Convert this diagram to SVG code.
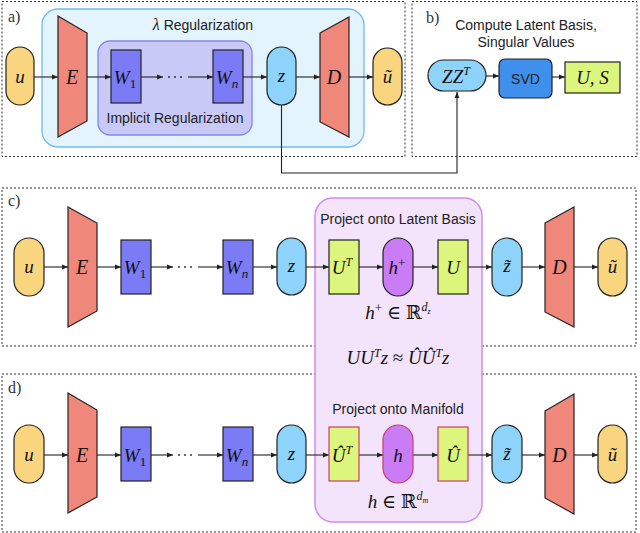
<svg xmlns="http://www.w3.org/2000/svg" width="640" height="533" viewBox="0 0 640 533">
<defs>
<marker id="ah" viewBox="0 0 10 10" refX="10" refY="5" markerWidth="6" markerHeight="6" orient="auto" markerUnits="userSpaceOnUse"><path d="M0,1 L10,5 L0,9 z" fill="#222"/></marker>
<style>
.panel{fill:none;stroke:#333;stroke-width:1;stroke-dasharray:2,2}
.u{fill:#f8d57e;stroke:#222;stroke-width:1.2}
.enc{fill:#f0877b;stroke:#222;stroke-width:1.2}
.w{fill:#7b7bf5;stroke:#222;stroke-width:1.2}
.z{fill:#8dd3fa;stroke:#222;stroke-width:1.2}
.g{fill:#dcf57c;stroke:#222;stroke-width:1.2}
.gr{fill:#dcf57c;stroke:#cc3c6a;stroke-width:1.2}
.h{fill:#c97cf4;stroke:#222;stroke-width:1.2}
.hr{fill:#c97cf4;stroke:#cc3c6a;stroke-width:1.2}
.m{font-family:"Liberation Serif","DejaVu Serif",serif;font-style:italic;fill:#111;text-anchor:middle}
.lab{font-family:"Liberation Serif","DejaVu Serif",serif;font-size:16px;fill:#333}
.s{font-family:"Liberation Sans","DejaVu Sans",sans-serif;font-size:14px;fill:#222;text-anchor:middle}
.c{fill:none;stroke:#222;stroke-width:1.1}
</style>
</defs>
<g id="panels">
<rect class="panel" x="2" y="1.5" width="403" height="155"/>
<rect class="panel" x="412" y="1.5" width="225" height="155"/>
<rect class="panel" x="2" y="188" width="634" height="158"/>
<rect class="panel" x="2" y="374" width="634" height="158"/>
<text class="lab" x="8" y="22">a)</text>
<text class="lab" x="426" y="23">b)</text>
<text class="lab" x="8" y="206">c)</text>
<text class="lab" x="8" y="393">d)</text>
</g>
<g id="lambda-reg">
<rect x="42" y="9" width="322" height="138" rx="16" fill="#e3f4fd" stroke="#6dbdf2" stroke-width="1.3"/>
<text class="s" x="203" y="30"><tspan font-family="Liberation Serif,serif" font-style="italic" font-size="16">λ</tspan> Regularization</text>
</g>
<g id="implicit-reg">
<rect x="98" y="41" width="154" height="94" rx="12" fill="#c9c9f7" stroke="#8585ea" stroke-width="1.3"/>
<text class="s" x="175" y="123">Implicit Regularization</text>
</g>
<g id="latent-box">
<rect x="315" y="198" width="167" height="324" rx="18" fill="#f3e4fb" stroke="#cf8cf2" stroke-width="1.5"/>
<text class="s" x="398" y="224">Project onto Latent Basis</text>
<text class="m" x="398" y="319" font-size="19">h<tspan font-style="normal" font-size="13" dy="-7">+</tspan><tspan font-style="normal" dy="7"> ∈ ℝ</tspan><tspan font-size="12" dy="-8">d</tspan><tspan font-size="8" dy="3">z</tspan></text>
<text class="m" x="398" y="364" font-size="19">UU<tspan font-size="12" dy="-7">T</tspan><tspan dy="7">z </tspan><tspan font-style="normal">≈</tspan> ÛÛ<tspan font-size="12" dy="-7">T</tspan><tspan dy="7">z</tspan></text>
<text class="s" x="398" y="414">Project onto Manifold</text>
<text class="m" x="398" y="508" font-size="19">h<tspan font-style="normal"> ∈ ℝ</tspan><tspan font-size="12" dy="-8">d</tspan><tspan font-size="8" dy="3">m</tspan></text>
</g>
<g id="connectors">
<line class="c" x1="34" y1="77" x2="58" y2="77" marker-end="url(#ah)"/>
<line class="c" x1="87" y1="77" x2="111" y2="77" marker-end="url(#ah)"/>
<line class="c" x1="141" y1="77" x2="163" y2="77" marker-end="url(#ah)"/>
<line class="c" x1="188" y1="77" x2="213" y2="77" marker-end="url(#ah)"/>
<line class="c" x1="243" y1="77" x2="267" y2="77" marker-end="url(#ah)"/>
<line class="c" x1="296" y1="77" x2="320" y2="77" marker-end="url(#ah)"/>
<line class="c" x1="349" y1="77" x2="373" y2="77" marker-end="url(#ah)"/>
<polyline class="c" points="281.5,105 281.5,173 457,173 457,92" marker-end="url(#ah)" stroke="#444" stroke-width="1.3"/>
<line class="c" x1="486" y1="76" x2="499" y2="76" marker-end="url(#ah)"/>
<line class="c" x1="552" y1="77" x2="565" y2="77" marker-end="url(#ah)"/>
<line class="c" x1="44" y1="267" x2="68" y2="267" marker-end="url(#ah)"/>
<line class="c" x1="97" y1="267" x2="121" y2="267" marker-end="url(#ah)"/>
<line class="c" x1="151" y1="267" x2="173" y2="267" marker-end="url(#ah)"/>
<line class="c" x1="198" y1="267" x2="223" y2="267" marker-end="url(#ah)"/>
<line class="c" x1="253" y1="267" x2="277" y2="267" marker-end="url(#ah)"/>
<line class="c" x1="306" y1="267" x2="329" y2="267" marker-end="url(#ah)"/>
<line class="c" x1="359" y1="267" x2="383" y2="267" marker-end="url(#ah)"/>
<line class="c" x1="413" y1="267" x2="438" y2="267" marker-end="url(#ah)"/>
<line class="c" x1="468" y1="267" x2="492" y2="267" marker-end="url(#ah)"/>
<line class="c" x1="522" y1="267" x2="545" y2="267" marker-end="url(#ah)"/>
<line class="c" x1="574" y1="267" x2="598" y2="267" marker-end="url(#ah)"/>
<line class="c" x1="44" y1="455" x2="68" y2="455" marker-end="url(#ah)"/>
<line class="c" x1="97" y1="455" x2="121" y2="455" marker-end="url(#ah)"/>
<line class="c" x1="151" y1="455" x2="173" y2="455" marker-end="url(#ah)"/>
<line class="c" x1="198" y1="455" x2="223" y2="455" marker-end="url(#ah)"/>
<line class="c" x1="253" y1="455" x2="277" y2="455" marker-end="url(#ah)"/>
<line class="c" x1="306" y1="455" x2="329" y2="455" marker-end="url(#ah)"/>
<line class="c" x1="359" y1="455" x2="383" y2="455" marker-end="url(#ah)"/>
<line class="c" x1="413" y1="455" x2="438" y2="455" marker-end="url(#ah)"/>
<line class="c" x1="468" y1="455" x2="492" y2="455" marker-end="url(#ah)"/>
<line class="c" x1="522" y1="455" x2="545" y2="455" marker-end="url(#ah)"/>
<line class="c" x1="574" y1="455" x2="598" y2="455" marker-end="url(#ah)"/>
<g fill="#222"><circle cx="169" cy="77" r="0.9"/><circle cx="175" cy="77" r="0.9"/><circle cx="181" cy="77" r="0.9"/>
<circle cx="179" cy="267" r="0.9"/><circle cx="185" cy="267" r="0.9"/><circle cx="191" cy="267" r="0.9"/>
<circle cx="179" cy="455" r="0.9"/><circle cx="185" cy="455" r="0.9"/><circle cx="191" cy="455" r="0.9"/></g>
</g>
<g id="a-u"><rect class="u" x="6" y="47" width="28" height="58" rx="14"/><text class="m" x="20" y="83" font-size="19">u</text></g>
<g id="a-E"><polygon class="enc" points="58,16 87,33 87,121 58,137"/><text class="m" x="72" y="84" font-size="20">E</text></g>
<g id="a-W1"><rect class="w" x="111" y="50" width="30" height="53"/><text class="m" x="125" y="84" font-size="19">W<tspan font-style="normal" font-size="13" dy="4">1</tspan></text></g>
<g id="a-Wn"><rect class="w" x="213" y="50" width="30" height="53"/><text class="m" x="227" y="84" font-size="19">W<tspan font-size="13" dy="4">n</tspan></text></g>
<g id="a-z"><rect class="z" x="267" y="47" width="29" height="58" rx="14.5"/><text class="m" x="281.5" y="82" font-size="19">z</text></g>
<g id="a-D"><polygon class="enc" points="320,33 349,17 349,137 320,122"/><text class="m" x="334" y="84" font-size="20">D</text></g>
<g id="a-ut"><rect class="u" x="373" y="48" width="29" height="57" rx="14.5"/><text class="m" x="387.5" y="83" font-size="19">ũ</text></g>
<g id="b-title"><text class="s" x="526" y="30">Compute Latent Basis,</text><text class="s" x="526" y="47">Singular Values</text></g>
<g id="b-zzt"><rect class="z" x="428" y="60" width="58" height="31" rx="15.5"/><text class="m" x="456" y="83" font-size="19">ZZ<tspan font-size="12" dy="-8">T</tspan></text></g>
<g id="b-svd"><rect x="499" y="59" width="53" height="39" rx="6" fill="#3f8fec" stroke="#222" stroke-width="1.2"/><text class="s" x="525.5" y="84">SVD</text></g>
<g id="b-us"><rect class="g" x="565" y="62" width="55" height="31"/><text class="m" x="592.5" y="84" font-size="19">U, S</text></g>
<g id="c-u"><rect class="u" x="14" y="238" width="30" height="58" rx="15"/><text class="m" x="29" y="273" font-size="19">u</text></g>
<g id="c-E"><polygon class="enc" points="68,207 97,223 97,311 68,327"/><text class="m" x="82" y="274" font-size="20">E</text></g>
<g id="c-W1"><rect class="w" x="121" y="240" width="30" height="54"/><text class="m" x="135" y="274" font-size="19">W<tspan font-style="normal" font-size="13" dy="4">1</tspan></text></g>
<g id="c-Wn"><rect class="w" x="223" y="240" width="30" height="54"/><text class="m" x="237" y="274" font-size="19">W<tspan font-size="13" dy="4">n</tspan></text></g>
<g id="c-z"><rect class="z" x="277" y="238" width="29" height="57" rx="14.5"/><text class="m" x="291.5" y="272" font-size="19">z</text></g>
<g id="c-UT"><rect class="g" x="329" y="240" width="30" height="54"/><text class="m" x="342" y="274" font-size="19">U<tspan font-size="12" dy="-8">T</tspan></text></g>
<g id="c-hplus"><rect class="h" x="383" y="238" width="30" height="58" rx="15"/><text class="m" x="397" y="274" font-size="19">h<tspan font-style="normal" font-size="13" dy="-7">+</tspan></text></g>
<g id="c-U"><rect class="g" x="438" y="240" width="30" height="54"/><text class="m" x="453" y="274" font-size="19">U</text></g>
<g id="c-zt"><rect class="z" x="492" y="238" width="30" height="58" rx="15"/><text class="m" x="507" y="272" font-size="19">z̃</text></g>
<g id="c-D"><polygon class="enc" points="545,223 574,207 574,327 545,312"/><text class="m" x="559.5" y="274" font-size="20">D</text></g>
<g id="c-ut"><rect class="u" x="598" y="238" width="29" height="58" rx="14.5"/><text class="m" x="612.5" y="273" font-size="19">ũ</text></g>
<g id="d-u"><rect class="u" x="14" y="425" width="30" height="58" rx="15"/><text class="m" x="29" y="461" font-size="19">u</text></g>
<g id="d-E"><polygon class="enc" points="68,393 97,410 97,497 68,513"/><text class="m" x="82" y="462" font-size="20">E</text></g>
<g id="d-W1"><rect class="w" x="121" y="427" width="30" height="54"/><text class="m" x="135" y="462" font-size="19">W<tspan font-style="normal" font-size="13" dy="4">1</tspan></text></g>
<g id="d-Wn"><rect class="w" x="223" y="427" width="30" height="54"/><text class="m" x="237" y="462" font-size="19">W<tspan font-size="13" dy="4">n</tspan></text></g>
<g id="d-z"><rect class="z" x="277" y="425" width="29" height="58" rx="14.5"/><text class="m" x="291.5" y="460" font-size="19">z</text></g>
<g id="d-UhT"><rect class="gr" x="329" y="427" width="30" height="54"/><text class="m" x="342" y="462" font-size="19">Û<tspan font-size="12" dy="-8">T</tspan></text></g>
<g id="d-h"><rect class="hr" x="383" y="425" width="30" height="58" rx="15"/><text class="m" x="398" y="462" font-size="19">h</text></g>
<g id="d-Uh"><rect class="gr" x="438" y="427" width="30" height="54"/><text class="m" x="453" y="462" font-size="19">Û</text></g>
<g id="d-zt"><rect class="z" x="492" y="425" width="30" height="58" rx="15"/><text class="m" x="507" y="460" font-size="19">z̃</text></g>
<g id="d-D"><polygon class="enc" points="545,411 574,394 574,514 545,498"/><text class="m" x="559.5" y="462" font-size="20">D</text></g>
<g id="d-ut"><rect class="u" x="598" y="425" width="29" height="58" rx="14.5"/><text class="m" x="612.5" y="461" font-size="19">ũ</text></g>
</svg>
